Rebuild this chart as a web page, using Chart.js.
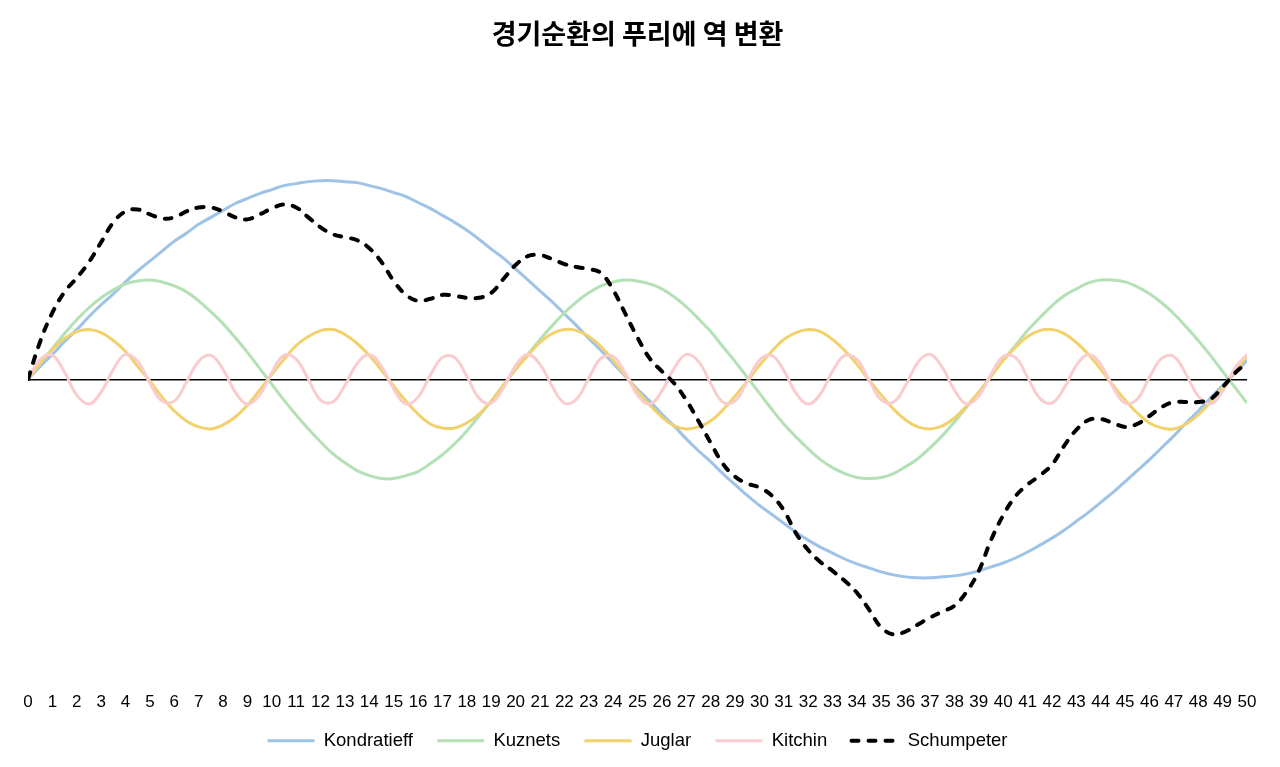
<!DOCTYPE html>
<html>
<head>
<meta charset="utf-8">
<script src="https://cdn.jsdelivr.net/npm/chart.js@4.4.1/dist/chart.umd.min.js"></script>
<style>
  html, body { margin: 0; padding: 0; background: #fff; }
  #wrap { width: 1280px; height: 767px; }
</style>
</head>
<body>
<div id="wrap"><canvas id="cycleChart"></canvas></div>
<script>
const years = [0, 0.5, 1, 1.5, 2, 2.5, 3, 3.5, 4, 4.5, 5, 5.5, 6, 6.5, 7, 7.5, 8, 8.5, 9, 9.5,
  10, 10.5, 11, 11.5, 12, 12.5, 13, 13.5, 14, 14.5, 15, 15.5, 16, 16.5, 17, 17.5, 18, 18.5, 19, 19.5,
  20, 20.5, 21, 21.5, 22, 22.5, 23, 23.5, 24, 24.5, 25, 25.5, 26, 26.5, 27, 27.5, 28, 28.5, 29, 29.5,
  30, 30.5, 31, 31.5, 32, 32.5, 33, 33.5, 34, 34.5, 35, 35.5, 36, 36.5, 37, 37.5, 38, 38.5, 39, 39.5,
  40, 40.5, 41, 41.5, 42, 42.5, 43, 43.5, 44, 44.5, 45, 45.5, 46, 46.5, 47, 47.5, 48, 48.5, 49, 49.5, 50];

const kondratieff = [0, 13, 25, 38, 50, 63, 75, 86, 98, 109,
  119, 129, 139, 147, 156, 163, 170, 177, 182, 187,
  191, 195, 197, 199, 200, 200, 199, 198, 195, 192,
  188, 184, 178, 172, 165, 158, 150, 141, 131, 122,
  111, 100, 89, 78, 66, 54, 41, 29, 16, 3,
  -10, -22, -35, -47, -60, -72, -83, -95, -106, -117,
  -127, -136, -145, -154, -162, -169, -175, -181, -186, -190,
  -194, -197, -199, -200, -200, -199, -198, -196, -193, -189,
  -185, -180, -174, -167, -160, -152, -143, -134, -124, -114,
  -103, -92, -81, -69, -57, -44, -32, -19, -6, 6, 19];

const kuznets = [0, 16, 31, 46, 60, 72, 82, 90, 96, 99,
  100, 98, 94, 88, 79, 68, 56, 42, 27, 11,
  -5, -21, -36, -50, -63, -75, -84, -92, -97, -100,
  -100, -97, -93, -85, -76, -65, -52, -37, -22, -6,
  10, 25, 40, 54, 67, 78, 87, 94, 98, 100,
  99, 96, 91, 83, 73, 61, 48, 33, 18, 2,
  -14, -30, -45, -58, -70, -81, -89, -95, -99, -100,
  -99, -95, -88, -80, -69, -57, -43, -28, -13, 3,
  19, 34, 49, 62, 74, 84, 91, 97, 100, 100,
  98, 93, 86, 77, 66, 53, 39, 24, 8, -8, -24];

const juglar = [0, 16, 30, 41, 48, 50, 47, 39, 28, 13,
  -2, -18, -32, -42, -48, -50, -46, -38, -26, -11,
  5, 20, 34, 43, 49, 50, 45, 36, 24, 9,
  -7, -22, -35, -45, -49, -49, -44, -35, -22, -6,
  10, 24, 37, 46, 50, 49, 43, 33, 19, 4,
  -12, -26, -38, -47, -50, -48, -42, -31, -17, -2,
  14, 28, 40, 47, 50, 48, 40, 29, 15, -1,
  -16, -30, -41, -48, -50, -47, -39, -27, -13, 3,
  19, 32, 43, 49, 50, 46, 37, 25, 10, -6,
  -21, -34, -44, -49, -50, -45, -36, -23, -8, 8, 23];

const kitchin = [0, 20, 24, 7, -16, -25, -13, 10, 25, 18,
  -4, -22, -22, -3, 18, 24, 10, -13, -25, -16,
  7, 24, 20, 0, -21, -23, -6, 16, 25, 13,
  -10, -25, -18, 4, 22, 22, 3, -19, -24, -9,
  14, 25, 15, -7, -24, -20, 1, 21, 23, 6,
  -16, -25, -12, 11, 25, 18, -4, -23, -22, -2,
  19, 24, 9, -14, -25, -15, 8, 24, 20, -1,
  -21, -23, -6, 17, 25, 12, -11, -25, -17, 5,
  23, 22, 2, -19, -24, -9, 14, 25, 15, -8,
  -24, -20, 2, 21, 23, 5, -17, -25, -12, 11, 25];

const schumpeter = [0, 38, 67, 88, 102, 118, 138, 158, 169, 171,
  166, 162, 163, 169, 173, 173, 169, 163, 161, 166,
  172, 176, 173, 163, 153, 146, 143, 140, 132, 118,
  99, 85, 79, 81, 85, 84, 82, 82, 87, 101,
  115, 124, 125, 121, 116, 113, 111, 107, 90, 66,
  42, 21, 8, -4, -21, -42, -64, -85, -98, -105,
  -109, -117, -132, -155, -172, -184, -193, -203, -215, -232,
  -250, -257, -254, -247, -240, -234, -228, -214, -193, -162,
  -137, -118, -106, -97, -86, -67, -51, -41, -40, -44,
  -48, -45, -37, -28, -23, -23, -23, -20, -8, 6, 17];

const seriesNames = ['Kondratieff', 'Kuznets', 'Juglar', 'Kitchin', 'Schumpeter'];
const seriesData = [kondratieff, kuznets, juglar, kitchin, schumpeter];

const colors = ['#9dc3e6', '#b3e0b5', '#f2d16b', '#f9ccd0', '#000000'];
const widths = [3, 3, 3, 3, 4];

const datasets = seriesData.map((data, index) => ({
  label: seriesNames[index],
  data: data,
  borderColor: colors[index],
  backgroundColor: colors[index],
  borderWidth: widths[index],
  borderDash: index === 4 ? [7, 10] : [],
  borderCapStyle: index === 4 ? 'round' : 'butt',
  pointRadius: 0,
  tension: 0.4,
  fill: false,
  order: seriesData.length - index
}));

const legendLabels = (chart) => {
  const items = Chart.defaults.plugins.legend.labels.generateLabels(chart);
  items.sort((a, b) => a.datasetIndex - b.datasetIndex);
  return items.map((item, i) => {
    const ds = chart.data.datasets[item.datasetIndex];
    item.lineDash = ds.borderDash;
    item.lineWidth = ds.borderWidth;
    item.lineCap = ds.borderCapStyle;
    item.strokeStyle = ds.borderColor;
    // a little extra room between items
    if (i < items.length - 1) item.text = item.text + '  ';
    return item;
  });
};

new Chart(document.getElementById('cycleChart'), {
  type: 'line',
  data: {
    labels: years,
    datasets: datasets
  },
  options: {
    responsive: true,
    maintainAspectRatio: false,
    animation: false,
    devicePixelRatio: 1,
    layout: {
      padding: { left: 28, right: 33, top: 0, bottom: 7 }
    },
    plugins: {
      title: {
        display: true,
        text: '경기순환의 푸리에 역 변환',
        color: '#000',
        font: { family: "'Noto Sans CJK KR', sans-serif", size: 27, weight: 'bold' },
        padding: { top: 18, bottom: 21 }
      },
      legend: {
        position: 'bottom',
        labels: {
          color: '#000',
          font: { family: "'Liberation Sans', Arial, sans-serif", size: 18.5 },
          usePointStyle: true,
          pointStyle: 'line',
          pointStyleWidth: 47,
          padding: 14,
          generateLabels: legendLabels
        }
      },
      tooltip: { enabled: false }
    },
    scales: {
      x: {
        type: 'linear',
        min: 0,
        max: 50,
        grid: { display: false, drawTicks: false },
        border: { display: false },
        ticks: {
          stepSize: 1,
          autoSkip: false,
          maxRotation: 0,
          color: '#000',
          padding: 5,
          font: { family: "'Liberation Sans', Arial, sans-serif", size: 17 }
        }
      },
      y: {
        min: -310,
        max: 310,
        border: { display: false },
        grid: {
          drawTicks: false,
          lineWidth: 1.5,
          color: (ctx) => ctx.tick && ctx.tick.value === 0 ? '#000' : 'rgba(0,0,0,0)'
        },
        ticks: { display: false, stepSize: 10 }
      }
    }
  }
});
</script>
</body>
</html>
